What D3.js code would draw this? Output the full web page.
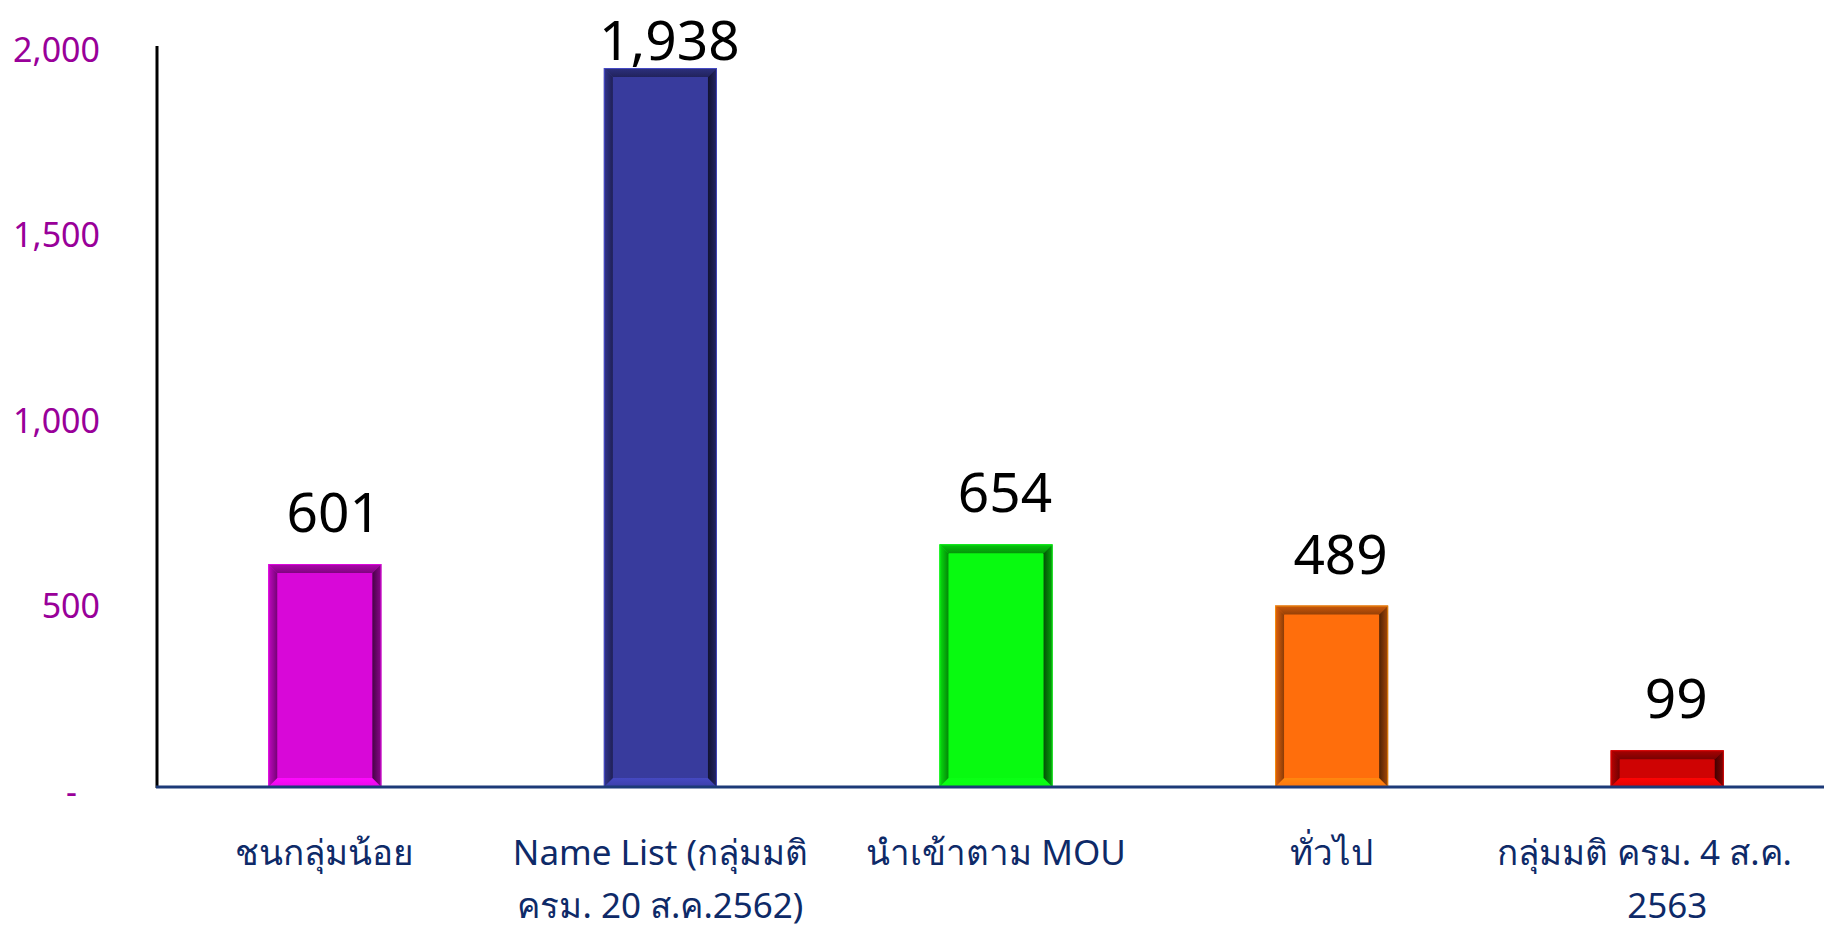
<!DOCTYPE html>
<html>
<head>
<meta charset="utf-8">
<script src="https://cdn.jsdelivr.net/npm/d3@7"></script>
<style>
    body { margin: 0; background: #ffffff; }
    svg { display: block; }
</style>
</head>
<body>
<div id="chart"></div>
<script>
// Chart data
const categories = ["ชนกลุ่มน้อย", "Name List (กลุ่มมติ\nครม. 20 ส.ค.2562)", "นำเข้าตาม MOU", "ทั่วไป", "กลุ่มมติ ครม. 4 ส.ค.\n2563"];
const values = [601, 1938, 654, 489, 99];
const barColors = ["#d808d8", "#383b9d", "#08fa10", "#ff6e0c", "#cf0303"];
const yTicks = [0, 500, 1000, 1500, 2000];

const width = 1824, height = 928;
const fontFamily = "'Noto Sans', Tahoma, 'DejaVu Sans', sans-serif";

let svg = d3.select("#chart")
    .append("svg")
    .attr("width", width)
    .attr("height", height);

let defs = svg.append("defs");

// Scales
let x = d3.scaleBand()
    .domain(categories)
    .range([157, 1835])
    .paddingInner(0.663)
    .paddingOuter(0.3315);

let y = d3.scaleLinear()
    .domain([0, 2000])
    .range([787, 45]);

// Y axis labels (no ticks, no domain)
let yAxis = svg.append("g")
    .attr("transform", "translate(157,0)")
    .call(d3.axisLeft(y)
        .tickValues(yTicks)
        .tickSize(0)
        .tickPadding(57)
        .tickFormat(d => d === 0 ? "-" : d3.format(",")(d)));

yAxis.select(".domain").remove();
yAxis.selectAll("text")
    .attr("x", d => d === 0 ? -80 : -57)
    .attr("dy", "16px")
    .style("font-family", fontFamily)
    .style("font-size", "34px")
    .attr("fill", "#990099");

// Bevelled bars
const b = 9;

function gradient(id, c1, c2, dir) {
    let g = defs.append("linearGradient").attr("id", id);
    if (dir === "down") g.attr("x1", 0).attr("y1", 0).attr("x2", 0).attr("y2", 1);
    if (dir === "up") g.attr("x1", 0).attr("y1", 1).attr("x2", 0).attr("y2", 0);
    if (dir === "right") g.attr("x1", 0).attr("y1", 0).attr("x2", 1).attr("y2", 0);
    if (dir === "left") g.attr("x1", 1).attr("y1", 0).attr("x2", 0).attr("y2", 0);
    g.append("stop").attr("offset", "0%").attr("stop-color", c1);
    g.append("stop").attr("offset", "100%").attr("stop-color", c2);
}

barColors.forEach((c, i) => {
    let col = d3.color(c);
    gradient("top" + i, col.darker(0.6), col.darker(1.5), "down");
    gradient("left" + i, col.darker(0.3), col.darker(1.7), "right");
    gradient("right" + i, col.darker(1.2), col.darker(3.2), "left");
    gradient("bottom" + i, col.brighter(0.2), col.brighter(0.6), "up");
});

let bars = svg.selectAll(".bar")
    .data(values)
    .enter()
    .append("g")
    .attr("class", "bar");

bars.each(function (v, i) {
    let g = d3.select(this);
    let x0 = x(categories[i]), w = x.bandwidth();
    let y0 = y(v), h = y(0) - y(v);
    let x1 = x0 + w, y1 = y0 + h;

    g.append("rect")
        .attr("x", x0).attr("y", y0)
        .attr("width", w).attr("height", h)
        .attr("fill", barColors[i]);

    const poly = (pts, fill) => g.append("polygon")
        .attr("points", pts.map(p => p.join(",")).join(" "))
        .attr("fill", fill);

    poly([[x0, y0], [x1, y0], [x1 - b, y0 + b], [x0 + b, y0 + b]], `url(#top${i})`);
    poly([[x0, y1], [x1, y1], [x1 - b, y1 - b], [x0 + b, y1 - b]], `url(#bottom${i})`);
    poly([[x0, y0], [x0 + b, y0 + b], [x0 + b, y1 - b], [x0, y1]], `url(#left${i})`);
    poly([[x1, y0], [x1, y1], [x1 - b, y1 - b], [x1 - b, y0 + b]], `url(#right${i})`);

    g.append("rect")
        .attr("x", x0 + 0.5).attr("y", y0 + 0.5)
        .attr("width", w - 1).attr("height", h - 1)
        .attr("fill", "none")
        .attr("stroke", d3.color(barColors[i]).brighter(1.2))
        .attr("stroke-opacity", 0.6)
        .attr("stroke-width", 1);
});

// Value labels (kept inside the top of the picture)
svg.selectAll(".value")
    .data(values)
    .enter()
    .append("text")
    .attr("class", "value")
    .attr("x", (d, i) => x(categories[i]) + x.bandwidth() / 2 + 9)
    .attr("y", d => Math.max(y(d) - 32, 60))
    .attr("text-anchor", "middle")
    .style("font-family", fontFamily)
    .style("font-size", "55px")
    .attr("fill", "#000000")
    .text(d => d3.format(",")(d));

// Axis lines
svg.append("line")
    .attr("x1", 157).attr("x2", 157)
    .attr("y1", 46).attr("y2", 788)
    .attr("stroke", "#000000")
    .attr("stroke-width", 3);

svg.append("line")
    .attr("x1", 156).attr("x2", width)
    .attr("y1", 787).attr("y2", 787)
    .attr("stroke", "#1c3a78")
    .attr("stroke-width", 3);

// Category labels
categories.forEach((c, i) => {
    let cx = x(c) + x.bandwidth() / 2;
    c.split("\n").forEach((line, j) => {
        let t = svg.append("text")
            .attr("x", cx)
            .attr("y", 865 + j * 53)
            .attr("text-anchor", "middle")
            .style("font-family", fontFamily)
            .style("font-size", "35px")
            .attr("fill", "#0e2a68")
            .text(line);
        // keep the label inside the picture
        let bb = t.node().getBBox();
        if (bb.x + bb.width > 1792) t.attr("x", cx - (bb.x + bb.width - 1792));
    });
});
</script>
</body>
</html>
